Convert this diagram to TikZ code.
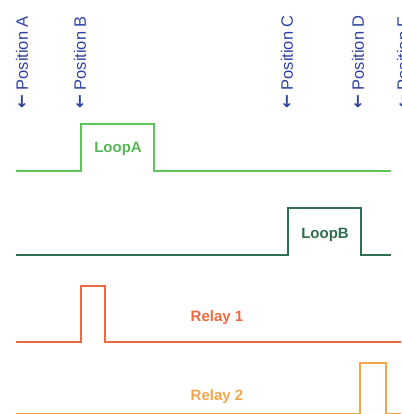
\documentclass[tikz,border=0pt]{standalone}
\usepackage{fontspec}
\setmainfont{Liberation Sans}
\newfontfamily\arrowfont{DejaVu Sans}
\definecolor{posblue}{HTML}{2D42A3}
\definecolor{loopa}{HTML}{5CC65A}
\definecolor{loopb}{HTML}{2F6E50}
\definecolor{relayone}{HTML}{EC6A3F}
\definecolor{relaytwo}{HTML}{F2A54A}
\newcommand{\larr}{{\arrowfont\bfseries ←}}
\begin{document}
\begin{tikzpicture}[x=1pt,y=-1pt,
  poslabel/.style={rotate=90,anchor=west,text=posblue,font=\fontsize{16.5}{16.5}\selectfont,inner sep=0pt},
  sig/.style={line width=2pt,line join=miter},
  siglabel/.style={font=\bfseries\fontsize{15}{15}\selectfont,inner sep=0pt}]
\useasboundingbox (0,0) rectangle (401,414);
\clip (0,0) rectangle (401,414);
% position labels
\node[poslabel] (pa) at (22,109) {\larr{} Position A};
\node[poslabel] (pb) at (80,109) {\larr{} Position B};
\node[poslabel] (pc) at (287,109) {\larr{} Position C};
\node[poslabel] (pd) at (358,109) {\larr{} Position D};
\node[poslabel] (pe) at (403,109) {\larr{} Position E};
% LoopA
\draw[sig,loopa] (16,171) -- (81,171) -- (81,124) -- (154,124) -- (154,171) -- (391,171);
\node[siglabel,text=loopa!92!black] (la) at (118,149) {LoopA};
% LoopB
\draw[sig,loopb] (16,255) -- (288,255) -- (288,208) -- (361,208) -- (361,255) -- (391,255);
\node[siglabel,text=loopb] (lb) at (325,235) {LoopB};
% Relay 1
\draw[sig,relayone] (16,342) -- (81,342) -- (81,286) -- (105,286) -- (105,342) -- (402,342);
\node[siglabel,text=relayone] (r1) at (217,318) {Relay 1};
% Relay 2
\draw[sig,relaytwo] (16,413.5) -- (360,413.5) -- (360,363) -- (386,363) -- (386,413.5) -- (402,413.5);
\node[siglabel,text=relaytwo] (r2) at (217,397) {Relay 2};
\end{tikzpicture}
\end{document}
